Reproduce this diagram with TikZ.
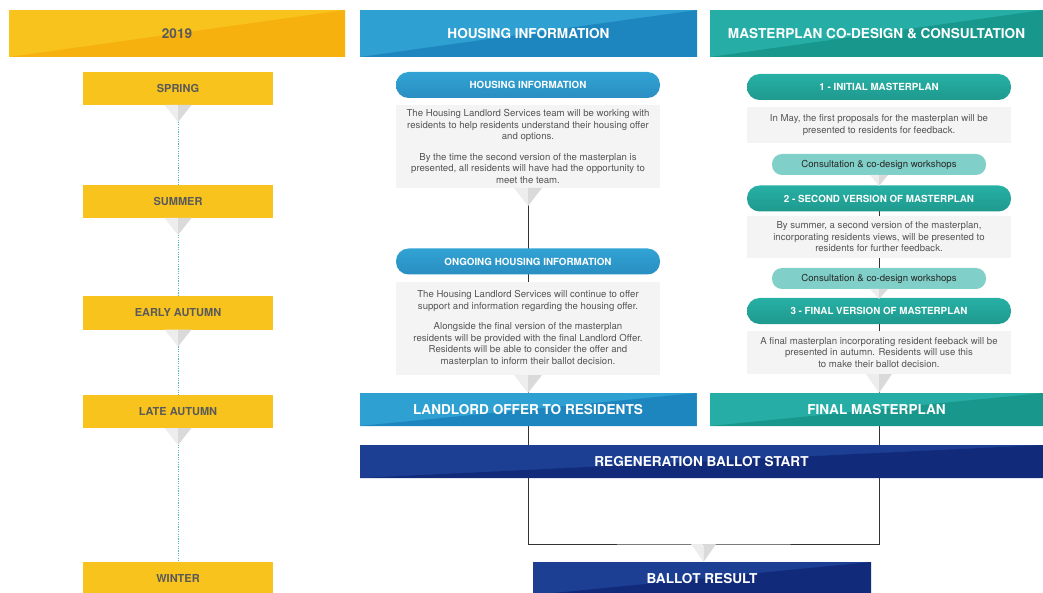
\documentclass[tikz,border=0pt]{standalone}
\usepackage{fontspec}
\setmainfont{TeX Gyre Heros}
\usetikzlibrary{backgrounds}
\definecolor{yellowA}{HTML}{F8C31D}
\definecolor{yellowB}{HTML}{F6B10F}
\definecolor{seasontext}{HTML}{5A5A5A}
\definecolor{blueA}{HTML}{2FA0D2}
\definecolor{blueB}{HTML}{1E86BF}
\definecolor{tealA}{HTML}{26AEA6}
\definecolor{tealB}{HTML}{18978C}
\definecolor{navyA}{HTML}{1C3F94}
\definecolor{navyB}{HTML}{122A7A}
\definecolor{pillblueA}{HTML}{31A3D4}
\definecolor{pillblueB}{HTML}{2A8EC1}
\definecolor{pilltealA}{HTML}{27B0A5}
\definecolor{pilltealB}{HTML}{1F998E}
\definecolor{workshopteal}{HTML}{80CFC8}
\definecolor{boxgray}{HTML}{F4F4F4}
\definecolor{bodytext}{HTML}{555555}
\definecolor{linkgray}{HTML}{333333}
\definecolor{dotteal}{HTML}{4DBDB9}
\definecolor{funnelleft}{HTML}{EDEDED}
\definecolor{funnelright}{HTML}{DADADA}
\newcommand{\funnel}[3]{%
	\begin{scope}[shift={(#1)}]
		\fill[funnelleft] (-#2,0) -- (0,0) -- (0,#3) -- cycle;
		\fill[funnelright] (0,0) -- (#2,0) -- (0,#3) -- cycle;
	\end{scope}}
\begin{document}
\begin{tikzpicture}[x=1pt, y=-1pt,
	every node/.style={inner sep=0pt, outer sep=0pt},
	split/.style 2 args={fill=#1, path picture={\fill[#2] (path picture bounding box.south west) -- (path picture bounding box.north east) -- (path picture bounding box.south east) -- cycle;}},
	header/.style 2 args={split={#1}{#2}, minimum height=47pt, text=white, font=\bfseries\fontsize{13.6}{15}\selectfont},
	season/.style={fill=yellowA, minimum width=190pt, minimum height=33pt, text=seasontext, font=\bfseries\fontsize{11}{13}\selectfont},
	pill/.style 2 args={top color=#1, bottom color=#2, rounded corners=12.5pt, minimum width=264pt, minimum height=26pt, text=white, font=\bfseries\fontsize{9.8}{11}\selectfont},
	infobox/.style={fill=boxgray, minimum width=264pt, align=center, text=bodytext, font=\fontsize{9.6}{11.5}\selectfont},
	workshop/.style={fill=workshopteal, rounded corners=10pt, minimum width=214pt, minimum height=21pt, text=black!85, font=\fontsize{9.6}{11}\selectfont},
	link/.style={draw=linkgray, line width=1pt},
	timeline/.style={draw=dotteal, line width=0.7pt, dash pattern=on 1.2pt off 1.2pt}]
	\useasboundingbox (0,0) rectangle (1043,593);
	\node[header={yellowA}{yellowB}, minimum width=336pt, text=seasontext] (year) at (177,33.5) {2019};
	\node[header={blueA}{blueB}, minimum width=337pt] (hhead) at (528.5,33.5) {HOUSING INFORMATION};
	\node[header={tealA}{tealB}, minimum width=333pt] (mhead) at (876.5,33.5) {MASTERPLAN CO-DESIGN \& CONSULTATION};
	\node[season] (spring) at (178,88.5) {SPRING};
	\node[season] (summer) at (178,201.5) {SUMMER};
	\node[season] (early) at (178,313) {EARLY AUTUMN};
	\node[season] (late) at (178,411.5) {LATE AUTUMN};
	\node[season] (winter) at (178,578.5) {WINTER};
	\node[pill={pillblueA}{pillblueB}] (hinfo) at (528,85) {HOUSING INFORMATION};
	\node[infobox, minimum height=83pt] (hinfotext) at (528,146.5) {The Housing Landlord Services team will be working with\\residents to help residents understand their housing offer\\and options.\\[9pt]By the time the second version of the masterplan is\\presented, all residents will have had the opportunity to\\meet the team.};
	\node[pill={pillblueA}{pillblueB}] (hongoing) at (528,261.5) {ONGOING HOUSING INFORMATION};
	\node[infobox, minimum height=93pt] (hongoingtext) at (528,328.5) {The Housing Landlord Services will continue to offer\\support and information regarding the housing offer.\\[9pt]Alongside the final version of the masterplan\\residents will be provided with the final Landlord Offer.\\Residents will be able to consider the offer and\\masterplan to inform their ballot decision.};
	\node[header={blueA}{blueB}, minimum width=337pt, minimum height=33pt] (landlord) at (528,409.5) {LANDLORD OFFER TO RESIDENTS};
	\node[pill={pilltealA}{pilltealB}] (mp1) at (879,87) {1 - INITIAL MASTERPLAN};
	\node[infobox, minimum height=36pt] (mp1text) at (879,125) {In May, the first proposals for the masterplan will be\\presented to residents for feedback.};
	\node[workshop] (ws1) at (879,164.5) {Consultation \& co-design workshops};
	\node[pill={pilltealA}{pilltealB}] (mp2) at (879,198.5) {2 - SECOND VERSION OF MASTERPLAN};
	\node[infobox, minimum height=42pt] (mp2text) at (879,237) {By summer, a second version of the masterplan,\\incorporating residents views, will be presented to\\residents for further feedback.};
	\node[workshop] (ws2) at (879,278.5) {Consultation \& co-design workshops};
	\node[pill={pilltealA}{pilltealB}] (mp3) at (879,311) {3 - FINAL VERSION OF MASTERPLAN};
	\node[infobox, minimum height=43pt] (mp3text) at (879,352.5) {A final masterplan incorporating resident feeback will be\\presented in autumn. Residents will use this\\to make their ballot decision.};
	\node[header={tealA}{tealB}, minimum width=333pt, minimum height=33pt] (final) at (876.5,409.5) {FINAL MASTERPLAN};
	\node[header={navyA}{navyB}, minimum width=683pt, minimum height=33pt] (ballot) at (701.5,461.5) {REGENERATION BALLOT START};
	\node[header={navyA}{navyB}, minimum width=338pt, minimum height=33pt] (result) at (702,578.5) {BALLOT RESULT};
	\coordinate (join) at (703.5,544);
	\begin{pgfonlayer}{background}
		\draw[timeline] (spring) -- (summer);
		\draw[timeline] (summer) -- (early);
		\draw[timeline] (early) -- (late);
		\draw[timeline] (late) -- (winter);
		\draw[link] (hinfotext) -- (landlord);
		\draw[link] (mp2) -- (mp2 |- final.north);
		\draw[link] (landlord.south) |- (join) -| (mp3text.south |- final.south);
	\end{pgfonlayer}
	\funnel{spring.south}{13.5}{17}
	\funnel{summer.south}{13.5}{17}
	\funnel{early.south}{13.5}{17}
	\funnel{late.south}{13.5}{17}
	\funnel{hinfotext.south}{14}{18}
	\funnel{hongoingtext.south}{14}{18}
	\funnel{ws1.south}{9}{11}
	\funnel{ws2.south}{9}{10}
	\funnel{mp3text.south}{13}{19}
	\funnel{join}{12.5}{18}
\end{tikzpicture}
\end{document}
